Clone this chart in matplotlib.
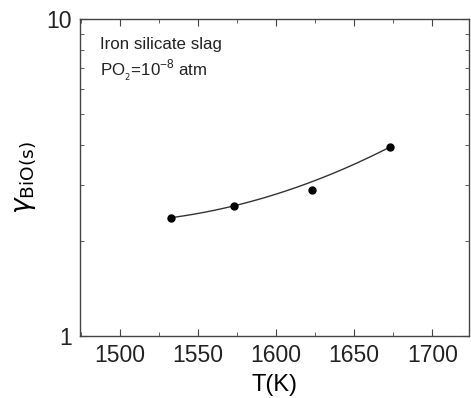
import numpy as np
import matplotlib
matplotlib.use('Agg')
import matplotlib.pyplot as plt
from matplotlib.ticker import MultipleLocator, LogLocator, NullFormatter, FixedLocator

plt.rcParams['font.family'] = ['Liberation Sans', 'DejaVu Sans']
plt.rcParams['text.color'] = '#222222'

# Data
temperature = [1533, 1573, 1623, 1673]
gamma_bio = [2.36, 2.58, 2.89, 3.95]

fig = plt.figure(figsize=(4.71, 3.98), dpi=100)
ax = fig.add_axes([80 / 471, 1 - 336 / 398, 389 / 471, 317 / 398])

# smooth fit through the points (quadratic in log space)
coef = np.polyfit(temperature, np.log10(gamma_bio), 2, w=[5, 5, 1, 5])
tt = np.linspace(min(temperature), max(temperature), 200)
ax.plot(tt, 10 ** np.polyval(coef, tt), color='#333333', lw=1.0)
ax.plot(temperature, gamma_bio, 'o', color='black', ms=5)

ax.set_yscale('log')
ax.set_xlim(1474.5, 1723.5)
ax.set_ylim(1, 10)

ax.xaxis.set_major_locator(MultipleLocator(50))
ax.xaxis.set_minor_locator(MultipleLocator(25))
ax.yaxis.set_major_locator(FixedLocator([1, 10]))
ax.yaxis.set_minor_locator(LogLocator(base=10, subs=np.arange(2, 10)))
ax.yaxis.set_minor_formatter(NullFormatter())
ax.set_yticklabels(['1', '10'])

ax.tick_params(which='both', direction='in', top=True, right=True,
               color='#444444', labelcolor='#222222', labelsize=16.5)
ax.tick_params(which='major', length=5, pad=6)
ax.tick_params(which='minor', length=3)
for s in ax.spines.values():
    s.set_color('#444444')
    s.set_linewidth(1.0)

ax.set_xlabel('T(K)', fontsize=17, labelpad=5)
ax.set_ylabel(r'$\gamma$$_{\mathrm{BiO(s)}}$', fontsize=19, labelpad=6)

ax.text(0.052, 0.92, 'Iron silicate slag', transform=ax.transAxes,
        fontsize=12.2, va='center')
ax.text(0.052, 0.84, r'PO$_{_2}$=10$^{\mathregular{-8}}$ atm', transform=ax.transAxes,
        fontsize=12.2, va='center')

fig.savefig('out.png', dpi=100)
